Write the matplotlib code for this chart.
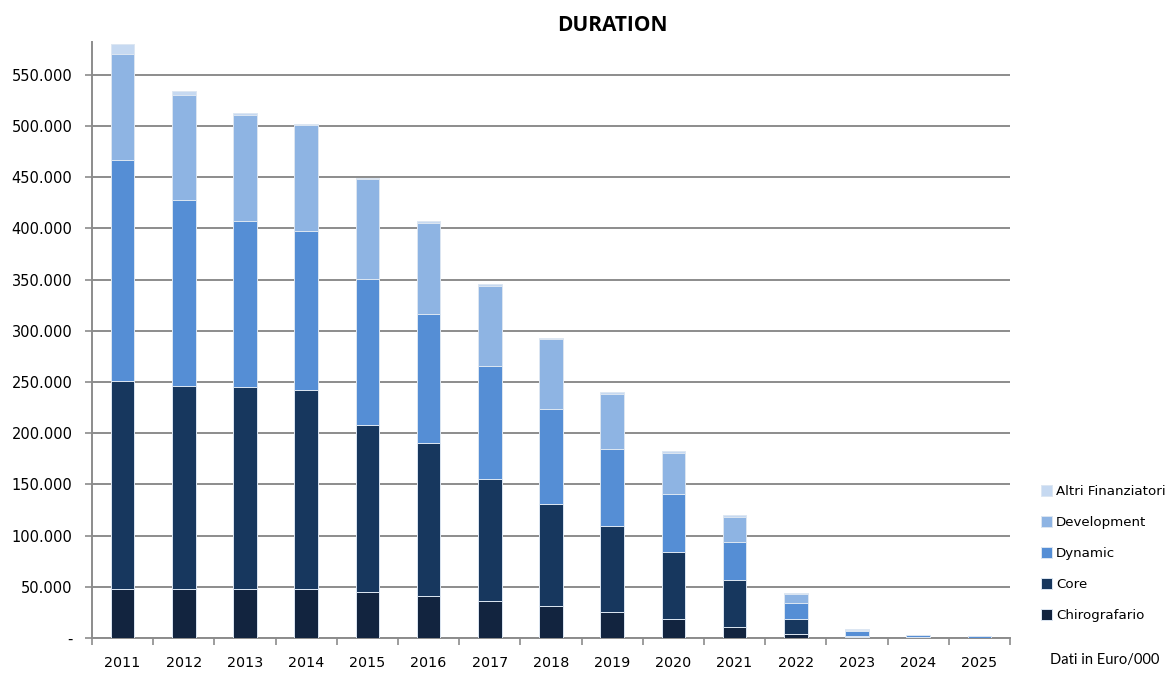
import numpy as np
import matplotlib.pyplot as plt
from matplotlib.ticker import FuncFormatter, FixedLocator

years = ['2011', '2012', '2013', '2014', '2015', '2016', '2017', '2018',
         '2019', '2020', '2021', '2022', '2023', '2024', '2025']

# segment values (Euro/000), bottom to top
chirografario = [48000, 48000, 48000, 48000, 45000, 41000, 36000, 31000,
                 25000, 18300, 11000, 3600, 1000, 300, 100]
core = [203000, 198000, 197000, 194000, 163000, 149500, 119000, 100000,
        84000, 65700, 45400, 14700, 1300, 400, 200]
dynamic = [216000, 182000, 162000, 155000, 143000, 125500, 111000, 93000,
           75700, 57000, 37400, 16200, 4700, 2300, 1300]
development = [103000, 102000, 104000, 103500, 97000, 89700, 78200, 67500,
               54000, 40000, 24700, 8800, 500, 0, 0]
altri = [10000, 4000, 2000, 1000, 1000, 1300, 1400, 1300,
         1600, 1700, 1500, 1000, 1300, 0, 100]

series = [
    ('Chirografario', chirografario, '#12243f'),
    ('Core', core, '#17375e'),
    ('Dynamic', dynamic, '#558ed5'),
    ('Development', development, '#8eb4e3'),
    ('Altri Finanziatori', altri, '#c6d9f1'),
]

fig = plt.figure(figsize=(11.73, 6.73), dpi=100)
ax = fig.add_axes([0.0784, 0.052, 0.7826, 0.8856])

x = np.arange(len(years))
bottom = np.zeros(len(years))
handles = []
for name, vals, col in series:
    b = ax.bar(x, vals, width=0.385, bottom=bottom, color=col,
               edgecolor='#dce6f2', linewidth=0.7, label=name, zorder=3)
    handles.append(b)
    bottom += np.array(vals)

ax.set_xlim(-0.5, len(years) - 0.5)
ax.set_ylim(0, 582000)

ax.yaxis.set_major_locator(FixedLocator(np.arange(0, 550001, 50000)))
ax.yaxis.set_major_formatter(FuncFormatter(
    lambda v, p: '-' if v == 0 else f'{int(v):,}'.replace(',', '.')))
ax.grid(axis='y', color='#8c8c8c', linewidth=1.4, zorder=0)
ax.set_axisbelow(True)

ax.set_xticks(x)
ax.set_xticklabels(years)
ax.xaxis.set_minor_locator(FixedLocator(np.arange(-0.5, len(years), 1)))
ax.tick_params(axis='x', which='major', length=0, pad=13, labelsize=10.3)
ax.tick_params(axis='x', which='minor', length=5, color='#8c8c8c', width=1.2)
ax.tick_params(axis='y', length=5, color='#8c8c8c', width=1.2, labelsize=10.5,
               pad=9)

for side in ('top', 'right'):
    ax.spines[side].set_visible(False)
for side in ('left', 'bottom'):
    ax.spines[side].set_color('#8c8c8c')
    ax.spines[side].set_linewidth(1.4)

fig.text(0.522, 0.962, 'DURATION', ha='center', va='center',
         fontsize=15, fontweight='bold', family='Open Sans')

leg = fig.legend(handles[::-1], [s[0] for s in series][::-1],
                 loc='center left', bbox_to_anchor=(0.877, 0.177),
                 frameon=False, fontsize=9.6, handlelength=0.85,
                 handleheight=0.85, handletextpad=0.3, labelspacing=1.35)

fig.text(0.895, 0.02, 'Dati in Euro/000', ha='left', va='center',
         fontsize=10.5, family='Lato')

fig.savefig('out.png', dpi=100)
